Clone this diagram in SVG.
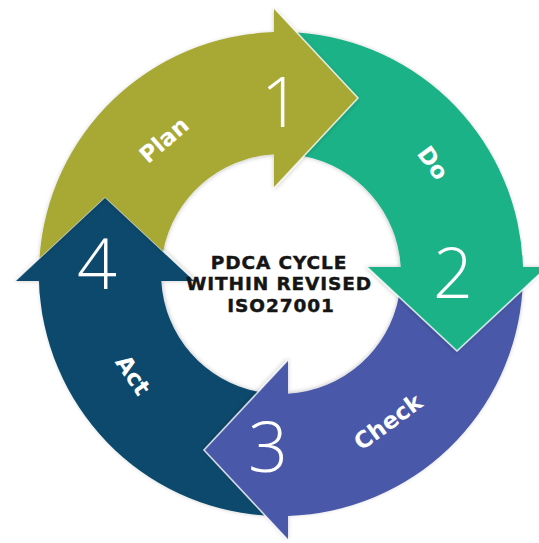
<svg xmlns="http://www.w3.org/2000/svg" xmlns:xlink="http://www.w3.org/1999/xlink" width="539" height="543" viewBox="0 0 539 543">
  <style>
    .num { font-family: "Open Sans", "Noto Sans", "Liberation Sans", sans-serif; font-weight: 300; font-size: 70px; fill: #ffffff; text-anchor: middle; }
    .label { font-family: "DejaVu Sans", "Liberation Sans", sans-serif; font-weight: bold; font-size: 23px; fill: #ffffff; text-anchor: middle; dominant-baseline: central; }
    .title { font-family: "DejaVu Sans", "Liberation Sans", sans-serif; font-weight: bold; font-size: 18.5px; letter-spacing: 0.9px; fill: #151515; stroke: #151515; stroke-width: 0.45; text-anchor: middle; }
    .edge { fill: none; stroke: #ffffff; stroke-opacity: 0.75; stroke-width: 1.6; stroke-linejoin: miter; }
  </style>
  <defs>
    <!-- one quarter of the cycle: curved band whose tail is notched by the previous head, ending in a straight arrowhead -->
    <path id="quarter" d="M -241.48 -15.89 A 242 242 0 0 1 -7 -241.9 L -7 -266 L 77 -176 L -7 -86 L -7 -119.8 A 120 120 0 0 0 -117.83 -22.71 L -176 -77 Z"/>
    <!-- light rim along the slanted sides of each arrowhead -->
    <polyline id="rim" points="-7,-266 77,-176 -7,-86"/>
    <filter id="soft" x="-10%" y="-10%" width="120%" height="120%">
      <feDropShadow dx="0" dy="1" stdDeviation="2" flood-color="#000000" flood-opacity="0.22"/>
    </filter>
  </defs>

  <rect width="539" height="543" fill="#ffffff"/>

  <g id="connectors"/>

  <g id="act">
    <g transform="translate(281 274) rotate(270)" filter="url(#soft)">
      <use xlink:href="#quarter" fill="#0a4a6c"/>
      <use xlink:href="#rim" class="edge"/>
    </g>
    <text class="num" x="97" y="289">4</text>
    <text class="label" transform="translate(133 375) rotate(56)">Act</text>
  </g>

  <g id="check">
    <g transform="translate(281 274) rotate(180)" filter="url(#soft)">
      <use xlink:href="#quarter" fill="#4a58a8"/>
      <use xlink:href="#rim" class="edge"/>
    </g>
    <text class="num" x="268" y="472">3</text>
    <text class="label" transform="translate(388 422) rotate(-36)">Check</text>
  </g>

  <g id="do">
    <g transform="translate(281 274) rotate(90)" filter="url(#soft)">
      <use xlink:href="#quarter" fill="#1eb287"/>
      <use xlink:href="#rim" class="edge"/>
    </g>
    <text class="num" x="453" y="298">2</text>
    <text class="label" transform="translate(433 163) rotate(54)">Do</text>
  </g>

  <g id="plan">
    <g transform="translate(281 274)" filter="url(#soft)">
      <use xlink:href="#quarter" fill="#a8a835"/>
      <use xlink:href="#rim" class="edge"/>
    </g>
    <text class="num" x="281" y="127">1</text>
    <text class="label" transform="translate(164 140) rotate(-41)">Plan</text>
  </g>

  <g id="title">
    <text class="title" x="279" y="268.5">PDCA CYCLE</text>
    <text class="title" x="279" y="290">WITHIN REVISED</text>
    <text class="title" x="281" y="311.5">ISO27001</text>
  </g>
</svg>
